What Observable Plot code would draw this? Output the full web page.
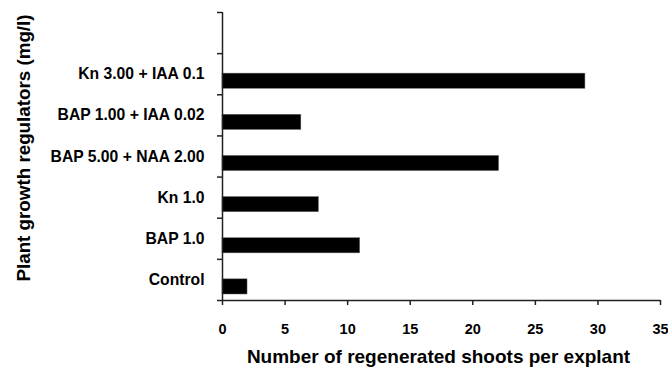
<!DOCTYPE html>
<html>
<head>
<meta charset="utf-8">
<script src="https://cdn.jsdelivr.net/npm/d3@7"></script>
<script src="https://cdn.jsdelivr.net/npm/@observablehq/plot@0.6"></script>
<style>
  body { margin: 0; background: #fff; }
  #chart svg { display: block; }
</style>
</head>
<body>
<div id="chart"></div>
<script>
const categories = ["Control", "BAP 1.0", "Kn 1.0", "BAP 5.00 + NAA 2.00", "BAP 1.00 + IAA 0.02", "Kn 3.00 + IAA 0.1"];
const shoots = [2.0, 11.0, 7.7, 22.1, 6.3, 29.0];
const xTicks = [0, 5, 10, 15, 20, 25, 30, 35];
const xTitle = "Number of regenerated shoots per explant";
const yTitle = "Plant growth regulators (mg/l)";

const data = categories.map((c, i) => ({category: c, index: i, value: shoots[i]}));
const slots = categories.length + 1;
const boundaries = d3.range(0, slots + 1);

const font = "'Liberation Sans', Arial, sans-serif";

const chart = Plot.plot({
  width: 668,
  height: 368,
  marginLeft: 222,
  marginRight: 8,
  marginTop: 12,
  marginBottom: 68,
  style: {fontFamily: font, fontWeight: "bold", background: "#fff", color: "#000"},
  x: {domain: [0, 35]},
  y: {domain: [0, slots]},
  marks: [
    Plot.rectX(data, {
      x1: 0,
      x2: "value",
      y1: "index",
      y2: d => d.index + 1,
      insetTop: 20,
      insetBottom: 6,
      fill: "#000",
      stroke: "#666",
      strokeWidth: 0.5
    }),
    Plot.text(data, {
      x: 0,
      y: d => d.index + 0.5,
      text: "category",
      textAnchor: "end",
      dx: -18,
      fontSize: 15.7,
      fontWeight: "bold",
      fill: "#000"
    }),
    Plot.axisY({ticks: boundaries, tickFormat: () => "", tickSize: 5, stroke: "#222", strokeWidth: 1.5, label: null}),
    Plot.ruleX([0], {stroke: "#222", strokeWidth: 1.5}),
    Plot.axisX({ticks: xTicks, tickSize: 5, tickPadding: 18, fontSize: 14.5, stroke: "#222", strokeWidth: 1.5, label: null, fill: "#000"}),
    Plot.ruleY([0], {stroke: "#222", strokeWidth: 1.5}),
    Plot.text([xTitle], {
      frameAnchor: "bottom",
      dx: -3,
      dy: 62,
      fontSize: 19,
      fontWeight: "bold",
      fill: "#000"
    }),
    Plot.text([yTitle], {
      frameAnchor: "left",
      textAnchor: "middle",
      dx: -199,
      dy: -8.5,
      rotate: -90,
      fontSize: 18.8,
      fontWeight: "bold",
      fill: "#000"
    })
  ]
});

document.getElementById("chart").appendChild(chart);
</script>
</body>
</html>
